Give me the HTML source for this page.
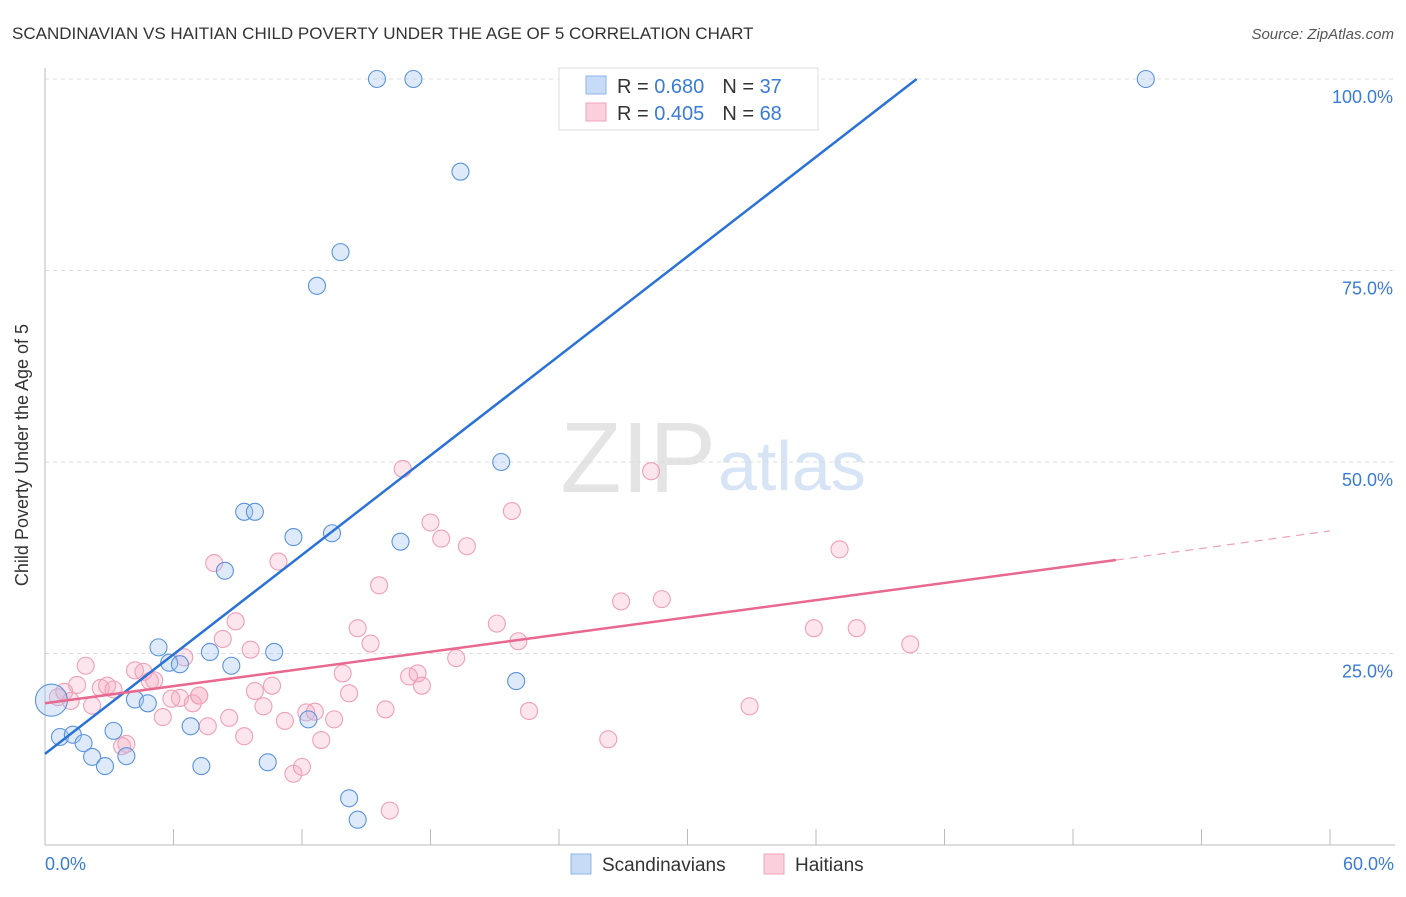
<!DOCTYPE html>
<html><head><meta charset="utf-8"><style>
body{margin:0;background:#fff;font-family:"Liberation Sans",sans-serif;}
svg text{font-family:"Liberation Sans",sans-serif;}
</style></head><body>
<svg width="1406" height="892">
<text x="12" y="39" font-size="17" fill="#333">SCANDINAVIAN VS HAITIAN CHILD POVERTY UNDER THE AGE OF 5 CORRELATION CHART</text>
<text x="1394" y="39" font-size="15" fill="#555" font-style="italic" text-anchor="end">Source: ZipAtlas.com</text>
<text x="716" y="492" font-size="100" fill="#e4e4e4" text-anchor="end" font-family="Liberation Serif">ZIP</text>
<text x="718" y="490" font-size="70" fill="#d6e4f5">atlas</text>
<g id="grid"></g>
<line x1="45" y1="68" x2="45" y2="845" stroke="#bbb"/>
<line x1="45" y1="845" x2="1395" y2="845" stroke="#bbb"/>
<g id="ticks"></g>
<text x="28" y="455" font-size="18" fill="#333" text-anchor="middle" transform="rotate(-90 28 455)">Child Poverty Under the Age of 5</text>
<text x="45" y="870" font-size="18" fill="#3a7bd5">0.0%</text>
<text x="1394" y="870" font-size="18" fill="#3a7bd5" text-anchor="end">60.0%</text>
<g id="pts"></g>
<g id="lines"></g>
<g>
<rect x="559" y="68" width="259" height="62" fill="#fff" stroke="#ddd"/>
<rect x="586" y="76" width="20" height="18" fill="#c6dbf5" stroke="#8fb4e6"/>
<rect x="586" y="103" width="20" height="18" fill="#fbd0dc" stroke="#f0a3b8"/>
<text x="617" y="93" font-size="20" fill="#333">R = <tspan fill="#3a7bd5">0.680</tspan><tspan dx="18">N = </tspan><tspan fill="#3a7bd5">37</tspan></text>
<text x="617" y="120" font-size="20" fill="#333">R = <tspan fill="#3a7bd5">0.405</tspan><tspan dx="18">N = </tspan><tspan fill="#3a7bd5">68</tspan></text>
</g>
<g>
<rect x="571" y="854" width="20" height="20" fill="#c6dbf5" stroke="#8fb4e6"/>
<text x="602" y="871" font-size="19" fill="#333">Scandinavians</text>
<rect x="764" y="854" width="20" height="20" fill="#fbd0dc" stroke="#f0a3b8"/>
<text x="795" y="871" font-size="19" fill="#333">Haitians</text>
</g>
</svg>
<script>
const yTicks=[25,50,75,100];
const xTicks=[0,6,12,18,24,30,36,42,48,54,60];
const blueX=[15.5,17.2,51.4,19.4,13.8,12.7,21.3,9.3,9.8,11.6,13.4,16.6,8.4,5.3,7.7,5.8,6.3,8.7,10.7,4.2,4.8,0.3,0.7,1.3,1.8,2.2,2.8,3.2,3.8,6.8,7.3,10.4,12.3,14.2,14.6,22.0,26.1];
const blueY=[100,100,100,87.9,77.4,73,50,43.5,43.5,40.2,40.7,39.6,35.8,25.8,25.2,23.8,23.6,23.4,25.2,19,18.5,18.9,14.1,14.4,13.3,11.5,10.3,14.9,11.6,15.5,10.3,10.8,16.4,6.1,3.3,21.4,100];
const pinkX=[0.6,0.9,1.2,1.5,1.9,2.2,2.6,2.9,3.2,3.6,3.8,4.2,4.6,4.9,5.1,5.5,5.9,6.3,6.5,6.9,7.2,7.6,7.9,8.3,8.6,8.9,9.3,9.6,9.8,10.2,10.6,10.9,11.2,11.6,12,12.2,12.6,12.9,13.5,13.9,14.2,14.6,15.2,15.6,15.9,16.7,17,17.4,17.6,18,18.5,19.2,19.7,21.1,21.8,22.1,22.6,26.3,26.9,28.3,28.8,32.9,35.9,37.1,37.9,40.4,16.1,7.2];
const pinkY=[19.3,20,18.8,20.9,23.4,18.2,20.5,20.8,20.3,12.9,13.2,22.8,22.6,21.4,21.5,16.7,19.1,19.2,24.5,18.5,19.5,15.5,36.8,26.9,16.6,29.2,14.2,25.5,20.1,18.1,20.8,37,16.2,9.3,10.2,17.3,17.4,13.7,16.4,22.4,19.8,28.3,26.3,33.9,17.7,49.1,22,22.4,20.8,42.1,40,24.4,39,28.9,43.6,26.6,17.5,13.8,31.8,48.8,32.1,18.1,28.3,38.6,28.3,26.2,4.5,19.5];
const blueLine=[0,11.9,40.7,100];
const pinkLine=[0,18.5,50,37.2,60,41];
const NS='http://www.w3.org/2000/svg';
const X=v=>45+v/60*1285, Y=v=>845-v*7.66;
function mk(t,a,p){const e=document.createElementNS(NS,t);for(const k in a)e.setAttribute(k,a[k]);document.getElementById(p).appendChild(e);return e;}
yTicks.forEach(t=>{
 const g=mk('line',{x1:45,x2:1395,y1:Y(t),y2:Y(t),stroke:'#ddd','stroke-dasharray':'4,4'},'grid');
 
 
 const l=mk('text',{x:1393,y:Y(t)+24,'font-size':18,fill:'#3a7bd5','text-anchor':'end'},'grid');
 l.textContent=t.toFixed(1)+'%';
 
 
});
xTicks.forEach(t=>{
 const e=mk('line',{x1:X(t),x2:X(t),y1:829,y2:845,stroke:'#bbb'},'ticks');
 
 
});
pinkX.forEach((v,i)=>{
 const c=mk('circle',{cx:X(v),cy:Y(pinkY[i]),r:8.5,fill:'rgba(246,170,192,0.3)',stroke:'#eea0b6','stroke-width':1.1},'pts');
 
 
});
blueX.forEach((v,i)=>{
 const c=mk('circle',{cx:X(v),cy:Y(blueY[i]),r:i==21?16:8.5,fill:'rgba(160,196,240,0.35)',stroke:'#5b93db','stroke-width':1.1},'pts');
 
 
});
let e=mk('line',{x1:X(blueLine[0]),y1:Y(blueLine[1]),x2:X(blueLine[2]),y2:Y(blueLine[3]),stroke:'#2a72d6','stroke-width':2.5},'lines');


e=mk('line',{x1:X(pinkLine[0]),y1:Y(pinkLine[1]),x2:X(pinkLine[2]),y2:Y(pinkLine[3]),stroke:'#e8688f','stroke-width':2.5},'lines');


e=mk('line',{x1:X(pinkLine[2]),y1:Y(pinkLine[3]),x2:X(pinkLine[4]),y2:Y(pinkLine[5]),stroke:'#eea0b6','stroke-width':1.2,'stroke-dasharray':'8,6'},'lines');


</script>
</body></html>
